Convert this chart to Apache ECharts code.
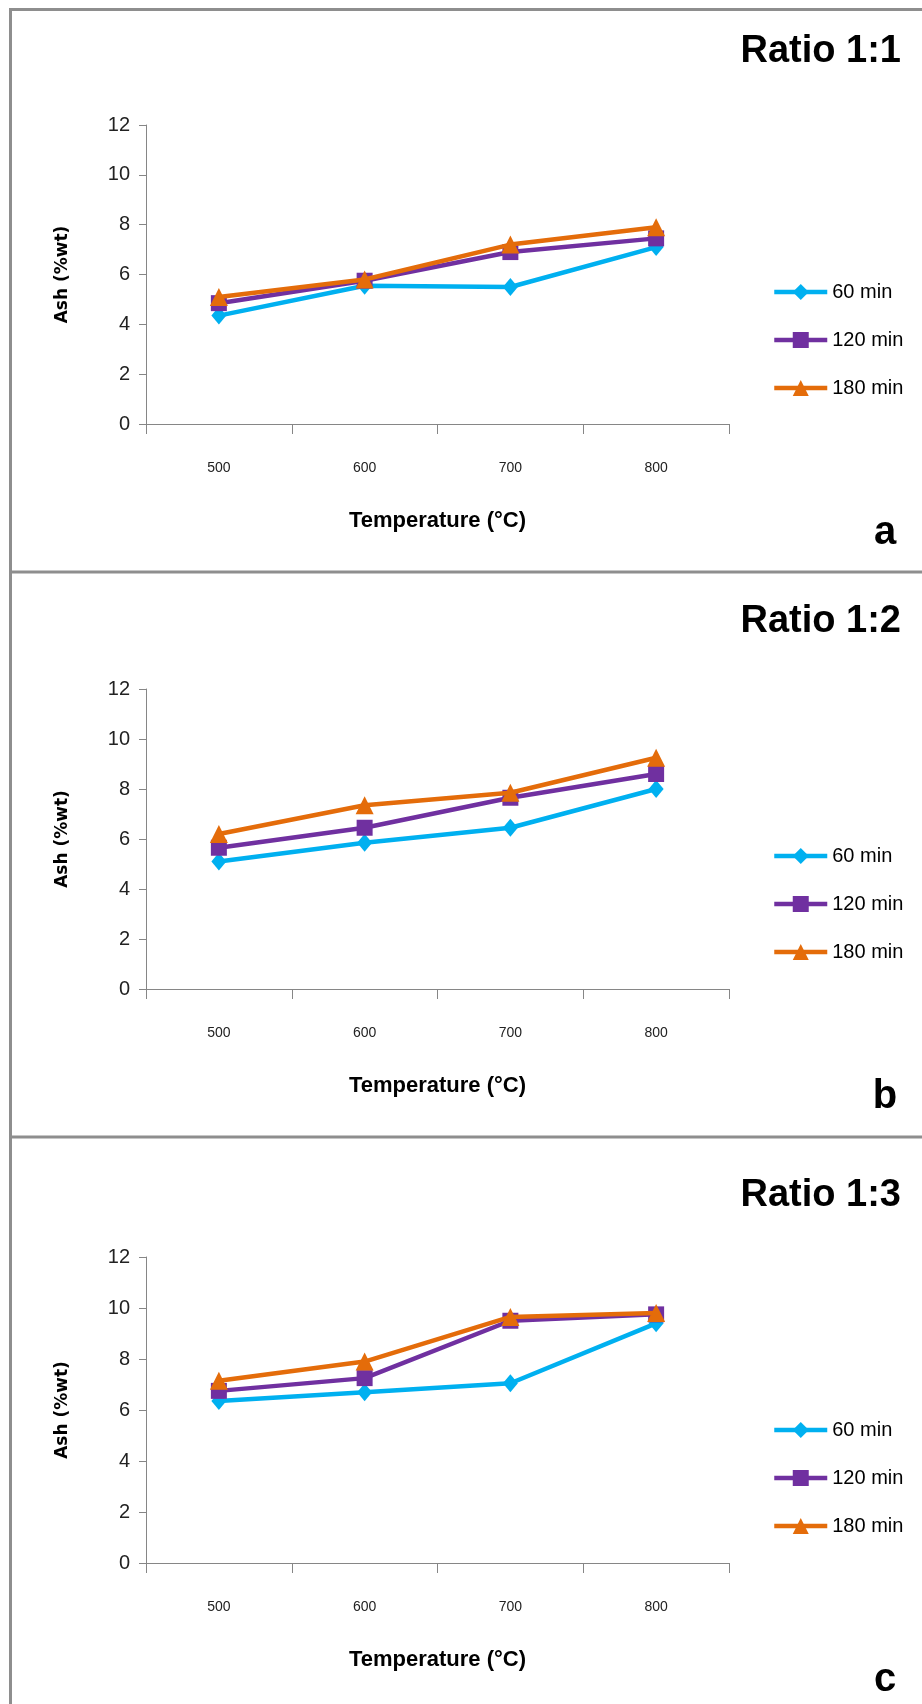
<!DOCTYPE html>
<html>
<head>
<meta charset="utf-8">
<title>Ash vs temperature</title>
<script src="https://cdn.jsdelivr.net/npm/echarts@6/dist/echarts.min.js"></script>
<style>
  html, body { margin: 0; padding: 0; background: #fff; }
  #main { width: 922px; height: 1704px; }
</style>
</head>
<body>
<div id="main"></div>
<script>
// data
var temperatures = ['500', '600', '700', '800'];
var seriesNames = ['60 min', '120 min', '180 min'];
var ratioTitles = ['Ratio 1:1', 'Ratio 1:2', 'Ratio 1:3'];
var panelLetters = ['a', 'b', 'c'];

// Ratio 1:1
var ratio1_60 = [4.35, 5.55, 5.5, 7.1];
var ratio1_120 = [4.85, 5.75, 6.9, 7.45];
var ratio1_180 = [5.1, 5.8, 7.2, 7.9];
// Ratio 1:2
var ratio2_60 = [5.1, 5.85, 6.45, 8.0];
var ratio2_120 = [5.65, 6.45, 7.65, 8.6];
var ratio2_180 = [6.2, 7.35, 7.85, 9.25];
// Ratio 1:3
var ratio3_60 = [6.35, 6.7, 7.05, 9.4];
var ratio3_120 = [6.75, 7.25, 9.5, 9.75];
var ratio3_180 = [7.15, 7.9, 9.65, 9.8];

var panelData = [
    [ratio1_60, ratio1_120, ratio1_180],
    [ratio2_60, ratio2_120, ratio2_180],
    [ratio3_60, ratio3_120, ratio3_180]
];

// look of each series
var colors = ['#00b0f0', '#7030a0', '#e46c0a'];
var symbols = ['diamond', 'rect', 'triangle'];
var symbolSizes = [[15, 18], 16, 18];

// layout of the three stacked panels
var gridTop = [125, 689, 1257];
var gridHeight = [299, 300, 306];
var titleY = [52, 622, 1196];
var letterY = [533, 1097, 1680];
var legendTop = [277, 841, 1415];

var myChart = echarts.init(document.getElementById('main'));

var grids = [], xAxes = [], yAxes = [], series = [], legends = [];
var frame = { stroke: '#8e8e8e', lineWidth: 3 };
var graphics = [
    // panel frames
    { type: 'line', shape: { x1: 10.5, y1: 9.5, x2: 922, y2: 9.5 }, style: frame },
    { type: 'line', shape: { x1: 10.5, y1: 8, x2: 10.5, y2: 1704 }, style: frame },
    { type: 'line', shape: { x1: 10.5, y1: 572, x2: 922, y2: 572 }, style: frame },
    { type: 'line', shape: { x1: 10.5, y1: 1137, x2: 922, y2: 1137 }, style: frame }
];

for (var i = 0; i < 3; i++) {
    grids.push({ left: 146, width: 583, top: gridTop[i], height: gridHeight[i] });

    xAxes.push({
        type: 'category',
        gridIndex: i,
        data: temperatures,
        boundaryGap: true,
        name: 'Temperature (°C)',
        nameLocation: 'middle',
        nameGap: 86,
        nameTextStyle: { fontFamily: 'Liberation Sans', fontWeight: 'bold', fontSize: 22, color: '#000' },
        axisLine: { lineStyle: { color: '#868686', width: 1 } },
        axisTick: { show: true, length: 10, lineStyle: { color: '#868686' } },
        axisLabel: { margin: 37, fontSize: 14, color: '#222', fontFamily: 'Liberation Sans' },
        splitLine: { show: false }
    });

    yAxes.push({
        type: 'value',
        gridIndex: i,
        min: 0,
        max: 12,
        interval: 2,
        name: 'Ash (%wt)',
        nameLocation: 'middle',
        nameGap: 75,
        nameTextStyle: { fontFamily: 'DejaVu Sans', fontWeight: 'bold', fontSize: 17, color: '#000' },
        axisLine: { show: true, lineStyle: { color: '#868686', width: 1 } },
        axisTick: { show: true, length: 7, lineStyle: { color: '#868686' } },
        axisLabel: { margin: 16, fontSize: 20, color: '#222', fontFamily: 'Liberation Sans' },
        splitLine: { show: false }
    });

    for (var s = 0; s < 3; s++) {
        series.push({
            name: seriesNames[s],
            type: 'line',
            xAxisIndex: i,
            yAxisIndex: i,
            data: panelData[i][s],
            symbol: symbols[s],
            symbolSize: symbolSizes[s],
            showAllSymbol: true,
            color: colors[s],
            lineStyle: { width: 4.5, color: colors[s] },
            itemStyle: { color: colors[s] },
            z: 2 + s,
            animation: false
        });
    }

    legends.push({
        orient: 'vertical',
        left: 767,
        top: legendTop[i],
        itemWidth: 53,
        itemHeight: 20,
        itemGap: 28,
        selectedMode: false,
        data: seriesNames,
        lineStyle: { width: 4.5 },
        textStyle: { fontSize: 20, color: '#000', fontFamily: 'Liberation Sans' }
    });

    graphics.push({
        type: 'text',
        style: {
            text: ratioTitles[i], x: 901, y: titleY[i], align: 'right', verticalAlign: 'middle',
            fontSize: 38, fontWeight: 'bold', fontFamily: 'Liberation Sans', fill: '#000'
        }
    });
    graphics.push({
        type: 'text',
        style: {
            text: panelLetters[i], x: 885, y: letterY[i], align: 'center', verticalAlign: 'middle',
            fontSize: 40, fontWeight: 'bold', fontFamily: 'Liberation Sans', fill: '#000'
        }
    });
}

myChart.setOption({
    animation: false,
    grid: grids,
    xAxis: xAxes,
    yAxis: yAxes,
    legend: legends,
    series: series,
    graphic: graphics
});
</script>
</body>
</html>
